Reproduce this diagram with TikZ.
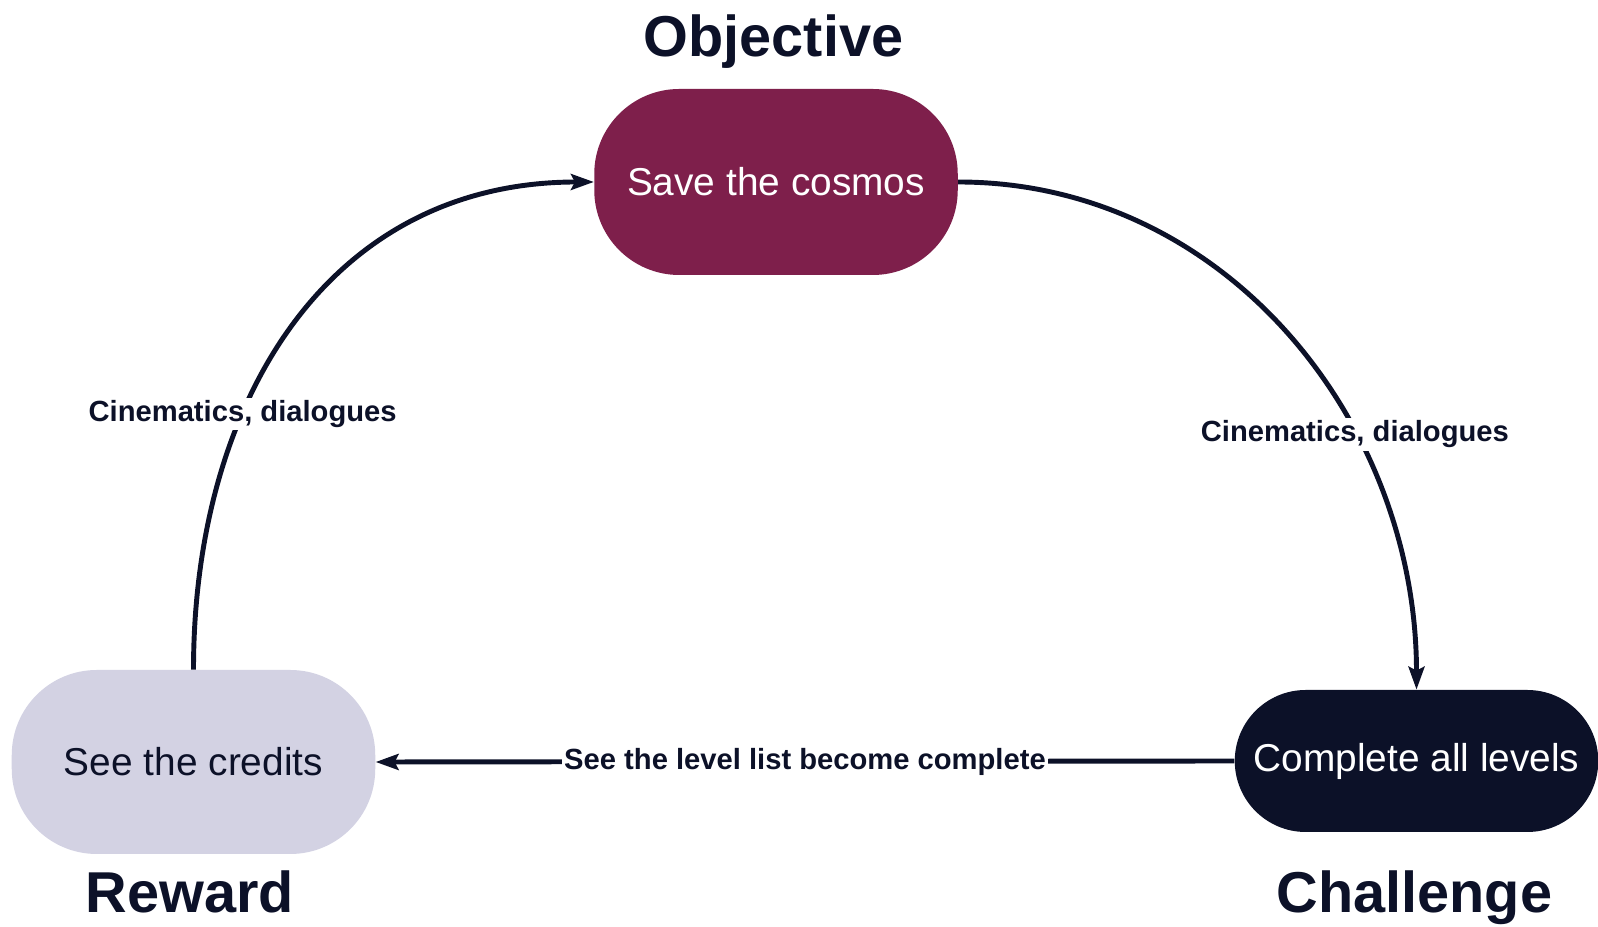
\documentclass[tikz,border=0pt]{standalone}
\usepackage{xcolor}
\usepackage{fontspec}
\setmainfont{Liberation Sans}
\usepackage{tikz}
\usetikzlibrary{shapes,arrows.meta,positioning}
\definecolor{navy}{HTML}{0C1128}
\definecolor{plum}{HTML}{7E1F4B}
\definecolor{lilac}{HTML}{D3D2E3}
\tikzset{
  goal/.style={rectangle, rounded corners=1.7cm, minimum width=7.27cm, inner sep=0pt,
    font=\fontsize{22.1pt}{26pt}\selectfont},
  heading/.style={text=navy, anchor=base, font=\bfseries\fontsize{32.8pt}{38pt}\selectfont},
  lbl/.style={fill=white, text=navy, inner sep=1.5pt, font=\bfseries\fontsize{16.6pt}{20pt}\selectfont},
  link/.style={draw=navy, line width=2.8pt, -{Stealth[length=13pt,width=9pt,inset=2.2pt]}}
}

\begin{document}
\begin{tikzpicture}
\useasboundingbox (0,0) rectangle (31.96,18.54);
\node[goal, fill=plum, text=white, minimum height=3.72cm] (cosmos) at (15.52,14.90) {Save the cosmos};
\node[goal, fill=lilac, text=navy, minimum height=3.68cm] (credits) at (3.87,3.30) {See the credits};
\node[goal, fill=navy, text=white, minimum height=2.84cm, rounded corners=1.42cm] (levels) at (28.33,3.32) {Complete all levels};
\node[heading] (objective) at (15.47,17.40) {Objective};
\node[heading] (reward) at (3.80,0.28) {Reward};
\node[heading] (challenge) at (28.29,0.28) {Challenge};
\draw[link] (credits.north) to[out=90,in=180,looseness=1.08] node[lbl,pos=0.35] {Cinematics, dialogues} (cosmos.west);
\draw[link] (cosmos.east) to[out=0,in=90] node[lbl,pos=0.66] {Cinematics, dialogues} (levels.north);
\draw[link] (levels.west) -- node[lbl] {See the level list become complete} (credits.east);
\end{tikzpicture}
\end{document}
